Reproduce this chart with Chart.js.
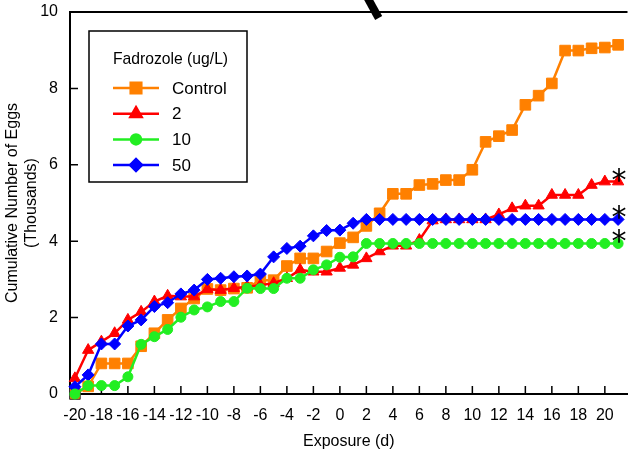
<!DOCTYPE html>
<html>
<head>
<meta charset="utf-8">
<script src="https://cdn.jsdelivr.net/npm/chart.js@4.4.1/dist/chart.umd.min.js"></script>
<style>
  html, body { margin: 0; padding: 0; background: #fff; }
  canvas { display: block; }
</style>
</head>
<body>
<canvas id="mychart" width="636" height="459"></canvas>
<script>
// Ngày phơi nhiễm (-20 .. 21)
const days = [-20, -19, -18, -17, -16, -15, -14, -13, -12, -11, -10, -9, -8, -7, -6, -5, -4, -3, -2, -1,
  0, 1, 2, 3, 4, 5, 6, 7, 8, 9, 10, 11, 12, 13, 14, 15, 16, 17, 18, 19, 20, 21];

const control = [0, 0.2, 0.8, 0.8, 0.8, 1.25, 1.59, 1.94, 2.24, 2.5, 2.75, 2.72, 2.76, 2.78, 2.98, 2.98, 3.35, 3.55, 3.55, 3.73,
  3.95, 4.1, 4.4, 4.73, 5.24, 5.24, 5.47, 5.5, 5.6, 5.6, 5.87, 6.6, 6.75, 6.91, 7.57, 7.81, 8.13, 8.99, 8.99, 9.05, 9.07, 9.14];
const fad2 = [0.41, 1.15, 1.37, 1.59, 1.94, 2.15, 2.42, 2.57, 2.55, 2.55, 2.74, 2.72, 2.77, 2.81, 2.85, 2.9, 3.03, 3.25, 3.2, 3.2,
  3.3, 3.38, 3.55, 3.73, 3.88, 3.88, 4.03, 4.54, 4.57, 4.57, 4.57, 4.57, 4.7, 4.86, 4.93, 4.93, 5.21, 5.21, 5.21, 5.47, 5.56, 5.56];
const fad10 = [0, 0.22, 0.22, 0.22, 0.45, 1.3, 1.5, 1.69, 2.01, 2.2, 2.28, 2.42, 2.42, 2.77, 2.76, 2.76, 3.03, 3.03, 3.25, 3.38,
  3.58, 3.59, 3.94, 3.94, 3.94, 3.94, 3.94, 3.94, 3.94, 3.94, 3.94, 3.94, 3.94, 3.94, 3.94, 3.94, 3.94, 3.94, 3.94, 3.94, 3.94, 3.94];
const fad50 = [0.19, 0.5, 1.31, 1.31, 1.78, 1.94, 2.29, 2.39, 2.62, 2.72, 3.0, 3.03, 3.07, 3.09, 3.14, 3.59, 3.81, 3.87, 4.14, 4.28,
  4.29, 4.47, 4.57, 4.57, 4.57, 4.57, 4.57, 4.57, 4.57, 4.57, 4.57, 4.57, 4.57, 4.57, 4.57, 4.57, 4.57, 4.57, 4.57, 4.57, 4.57, 4.57];

const xTicks = [-20, -18, -16, -14, -12, -10, -8, -6, -4, -2, 0, 2, 4, 6, 8, 10, 12, 14, 16, 18, 20];
const yTicks = [0, 2, 4, 6, 8, 10];
const legendTitle = "Fadrozole (ug/L)";
const seriesNames = ["Control", "2", "10", "50"];
const starred = [1, 2, 3]; // các nhóm có dấu *

const FONT = '"Liberation Sans", Arial, sans-serif';
Chart.defaults.font.family = FONT;
Chart.defaults.font.size = 16;
Chart.defaults.color = "#000";

function pts(vals) {
  return days.map((d, i) => ({ x: d, y: vals[i] }));
}

function makeSet(label, vals, color, style, radius, order) {
  return {
    label: label,
    data: pts(vals),
    borderColor: color,
    backgroundColor: color,
    pointBackgroundColor: color,
    pointBorderColor: color,
    pointBorderWidth: 1,
    pointStyle: style,
    pointRadius: radius,
    borderWidth: 2.5,
    tension: 0,
    clip: false,
    order: order,
  };
}

const sets = [
  makeSet(seriesNames[0], control, "#ff8000", "rect", 7.5, 4),
  makeSet(seriesNames[1], fad2, "#ff0000", "triangle", 6.5, 3),
  makeSet(seriesNames[2], fad10, "#22ee22", "circle", 5, 1),
  makeSet(seriesNames[3], fad50, "#0000ff", "rectRot", 6, 2),
];
// ô vuông viền tối ở gốc
sets[0].pointBorderColor = control.map((v, i) => (i === 0 ? "#333" : "#ff8000"));

function marker(ctx, ds, x, y) {
  ctx.fillStyle = ds.pointBackgroundColor;
  ctx.strokeStyle = ds.borderColor;
  if (Chart.helpers && Chart.helpers.drawPoint) {
    Chart.helpers.drawPoint(ctx, { pointStyle: ds.pointStyle, radius: ds.pointRadius, borderWidth: 1, rotation: 0 }, x, y);
  } else {
    ctx.beginPath();
    ctx.arc(x, y, ds.pointRadius, 0, Math.PI * 2);
    ctx.fill();
  }
}

const decor = {
  id: "decor",
  beforeDatasetsDraw(chart) {
    const { ctx, chartArea: a, scales } = chart;
    ctx.save();
    ctx.strokeStyle = "#000";
    ctx.lineWidth = 2;
    ctx.beginPath();
    ctx.moveTo(a.left - 1, a.top);
    ctx.lineTo(a.right, a.top);
    ctx.stroke();
    // vạch chia hướng vào trong
    ctx.lineWidth = 1.5;
    ctx.beginPath();
    scales.x.ticks.forEach((t) => {
      const px = scales.x.getPixelForValue(t.value);
      ctx.moveTo(px, a.bottom);
      ctx.lineTo(px, a.bottom - 8);
    });
    scales.y.ticks.forEach((t) => {
      const py = scales.y.getPixelForValue(t.value);
      ctx.moveTo(a.left, py);
      ctx.lineTo(a.left + 8, py);
    });
    ctx.stroke();
    ctx.restore();
  },
  afterDraw(chart) {
    const { ctx, chartArea: a, scales } = chart;
    ctx.save();

    // dấu * cuối các đường
    ctx.fillStyle = "#000";
    ctx.font = '30px "DejaVu Sans", sans-serif';
    ctx.textAlign = "center";
    ctx.textBaseline = "alphabetic";
    starred.forEach((i) => {
      const meta = chart.getDatasetMeta(i);
      const p = meta.data[meta.data.length - 1];
      ctx.fillText("*", p.x + 1, p.y + 8);
    });

    // vạch chéo phía trên
    const bx = scales.x.getPixelForValue(2.55);
    ctx.strokeStyle = "#000";
    ctx.lineWidth = 8;
    ctx.beginPath();
    ctx.moveTo(bx - 6, a.top - 14);
    ctx.lineTo(bx + 5, a.top + 6);
    ctx.stroke();

    // chú giải
    const lx = a.left + 19, ly = a.top + 19, lw = 158, lh = 151;
    ctx.fillStyle = "#fff";
    ctx.fillRect(lx, ly, lw, lh);
    ctx.strokeStyle = "#000";
    ctx.lineWidth = 1.5;
    ctx.strokeRect(lx, ly, lw, lh);

    ctx.fillStyle = "#000";
    ctx.textAlign = "left";
    ctx.textBaseline = "middle";
    ctx.font = "15.7px " + FONT;
    ctx.fillText(legendTitle, lx + 24, ly + 29);
    ctx.font = "17px " + FONT;
    chart.data.datasets.forEach((ds, i) => {
      const yy = ly + 57 + i * 25.7;
      ctx.strokeStyle = ds.borderColor;
      ctx.lineWidth = 2.5;
      ctx.beginPath();
      ctx.moveTo(lx + 24, yy);
      ctx.lineTo(lx + 70, yy);
      ctx.stroke();
      marker(ctx, ds, lx + 47, yy);
      ctx.fillStyle = "#000";
      ctx.fillText(ds.label, lx + 83, yy + 1);
    });
    ctx.restore();
  },
};

const ctx = document.getElementById("mychart").getContext("2d");
const mychart = new Chart(ctx, {
  type: "line",
  data: { datasets: sets },
  options: {
    responsive: false,
    animation: false,
    layout: { padding: { top: 12, right: 0, left: 0, bottom: 0 } },
    plugins: { legend: { display: false }, tooltip: { enabled: false } },
    scales: {
      x: {
        type: "linear",
        min: -20.37,
        max: 21.71,
        afterBuildTicks: (s) => { s.ticks = xTicks.map((v) => ({ value: v })); },
        afterFit: (s) => { s.height = 65; s.paddingLeft = 0; s.paddingRight = 0; },
        grid: { display: false, drawTicks: false },
        border: { display: true, color: "#000", width: 2 },
        ticks: { padding: 12, maxRotation: 0, autoSkip: false, font: { size: 16 } },
        title: { display: true, text: "Exposure (d)", padding: { top: 0, bottom: 8 }, font: { size: 16 } },
      },
      y: {
        min: 0,
        max: 10,
        afterBuildTicks: (s) => { s.ticks = yTicks.map((v) => ({ value: v })); },
        afterFit: (s) => { s.width = 70; s.paddingTop = 0; s.paddingBottom = 0; },
        grid: { display: false, drawTicks: false },
        border: { display: true, color: "#000", width: 2 },
        ticks: { padding: 12, font: { size: 16 } },
        title: {
          display: true,
          text: ["Cumulative Number of Eggs", "(Thousands)"],
          padding: { top: 3, bottom: 0 },
          font: { size: 16 },
        },
      },
    },
  },
  plugins: [decor],
});
</script>
</body>
</html>
